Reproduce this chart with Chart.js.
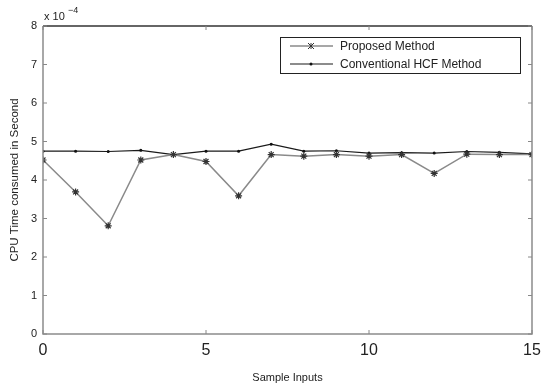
<!DOCTYPE html>
<html><head><meta charset="utf-8">
<script src="https://cdn.jsdelivr.net/npm/chart.js@4/dist/chart.umd.min.js"></script>
<style>html,body{margin:0;padding:0;background:#fff}canvas{display:block}</style>
</head><body>
<canvas id="c" width="542" height="385"></canvas>
<script>
// values in units of 1e-4 seconds
const sampleInputs = [0,1,2,3,4,5,6,7,8,9,10,11,12,13,14,15];
const proposedMethod = [4.52,3.69,2.81,4.52,4.66,4.48,3.59,4.66,4.62,4.66,4.62,4.66,4.17,4.67,4.66,4.66];
const conventionalHCF = [4.75,4.75,4.74,4.77,4.66,4.75,4.75,4.93,4.75,4.76,4.70,4.71,4.70,4.74,4.72,4.68];
const xTicks = [0,5,10,15];
const yTicks = [0,1,2,3,4,5,6,7,8];
const seriesNames = ['Proposed Method','Conventional HCF Method'];
const FONT = "'Liberation Sans', Arial, sans-serif";

const decor = {
  id:'decor',
  afterDraw(chart){
    const ctx = chart.ctx, a = chart.chartArea, xs = chart.scales.x, ys = chart.scales.y;
    ctx.save();
    ctx.lineWidth = 1.5;
    ctx.strokeStyle = '#8c8c8c';
    ctx.beginPath();
    ctx.moveTo(a.left, a.top); ctx.lineTo(a.left, a.bottom); ctx.lineTo(a.right, a.bottom); ctx.lineTo(a.right, a.top);
    ctx.stroke();
    ctx.strokeStyle = '#333';
    ctx.beginPath(); ctx.moveTo(a.left, a.top); ctx.lineTo(a.right, a.top); ctx.stroke();
    ctx.lineWidth = 1; ctx.strokeStyle = '#888';
    yTicks.forEach(v=>{ const y = ys.getPixelForValue(v);
      ctx.beginPath(); ctx.moveTo(a.left,y); ctx.lineTo(a.left+4,y); ctx.moveTo(a.right,y); ctx.lineTo(a.right-4,y); ctx.stroke(); });
    xTicks.forEach(v=>{ const x = xs.getPixelForValue(v);
      ctx.beginPath(); ctx.moveTo(x,a.bottom); ctx.lineTo(x,a.bottom-4); ctx.moveTo(x,a.top); ctx.lineTo(x,a.top+4); ctx.stroke(); });
    ctx.fillStyle = '#222';
    ctx.font = '11px ' + FONT;
    ctx.textBaseline = 'alphabetic'; ctx.textAlign = 'left';
    ctx.fillText('x 10', a.left+1, a.top-6);
    ctx.font = '9px ' + FONT;
    ctx.fillText('\u22124', a.left+25, a.top-13);
    const lx = 280, ly = 37, lw = 240, lh = 36;
    ctx.fillStyle = '#fff'; ctx.fillRect(lx, ly, lw, lh);
    ctx.strokeStyle = '#222'; ctx.lineWidth = 1; ctx.strokeRect(lx+0.5, ly+0.5, lw, lh);
    const ds = chart.data.datasets;
    [46, 64].forEach((y,i)=>{
      ctx.strokeStyle = ds[i].borderColor; ctx.lineWidth = ds[i].borderWidth;
      ctx.beginPath(); ctx.moveTo(290,y); ctx.lineTo(333,y); ctx.stroke();
      if(i===0){ ctx.lineWidth=1; ctx.strokeStyle='#333';
        const c=311, r=3; ctx.beginPath();
        ctx.moveTo(c-r,y-r); ctx.lineTo(c+r,y+r); ctx.moveTo(c-r,y+r); ctx.lineTo(c+r,y-r); ctx.moveTo(c,y-r); ctx.lineTo(c,y+r); ctx.stroke();
      } else { ctx.fillStyle='#111'; ctx.beginPath(); ctx.arc(311,y,1.5,0,Math.PI*2); ctx.fill(); }
      ctx.fillStyle = '#222'; ctx.font = '12px ' + FONT; ctx.textBaseline='middle';
      ctx.fillText(seriesNames[i], 340, y+0.5);
    });
    ctx.restore();
  }
};

new Chart(document.getElementById('c'), {
  type:'line',
  data:{ datasets:[
    { label:seriesNames[0], data:sampleInputs.map((x,i)=>({x, y:proposedMethod[i]})),
      borderColor:'#8a8a8a', borderWidth:1.5, pointStyle:'star', pointRadius:3.5, pointBorderColor:'#333', pointBorderWidth:1.2, pointBackgroundColor:'#333', tension:0 },
    { label:seriesNames[1], data:sampleInputs.map((x,i)=>({x, y:conventionalHCF[i]})),
      borderColor:'#1a1a1a', borderWidth:1.2, pointStyle:'circle', pointRadius:1.5, pointBackgroundColor:'#111', pointBorderWidth:0, tension:0 }
  ]},
  options:{
    responsive:false, animation:false, devicePixelRatio:1,
    layout:{ padding:{ top:26, right:10, left:0, bottom:0 } },
    plugins:{ legend:{display:false}, tooltip:{enabled:false} },
    scales:{
      x:{ type:'linear', min:0, max:15,
        afterBuildTicks(s){ s.ticks = xTicks.map(v=>({value:v})); },
        afterFit(s){ s.height = 51; s.paddingRight = 0; s.paddingLeft = 0; },
        grid:{display:false, drawTicks:false}, border:{display:false},
        ticks:{ color:'#222', font:{family:FONT, size:16}, padding:7, maxRotation:0, autoSkip:false },
        title:{ display:true, text:'Sample Inputs', color:'#222', font:{family:FONT, size:11}, padding:{top:5,bottom:0} }
      },
      y:{ type:'linear', min:0, max:8,
        afterBuildTicks(s){ s.ticks = yTicks.map(v=>({value:v})); },
        afterFit(s){ s.width = 43; s.paddingTop = 0; s.paddingBottom = 0; },
        grid:{display:false, drawTicks:false}, border:{display:false},
        ticks:{ color:'#222', font:{family:FONT, size:11}, padding:6 },
        title:{ display:true, text:'CPU Time consumed in Second', color:'#222', font:{family:FONT, size:11.5}, padding:{top:8,bottom:0} }
      }
    }
  },
  plugins:[decor]
});
</script>
</body></html>
